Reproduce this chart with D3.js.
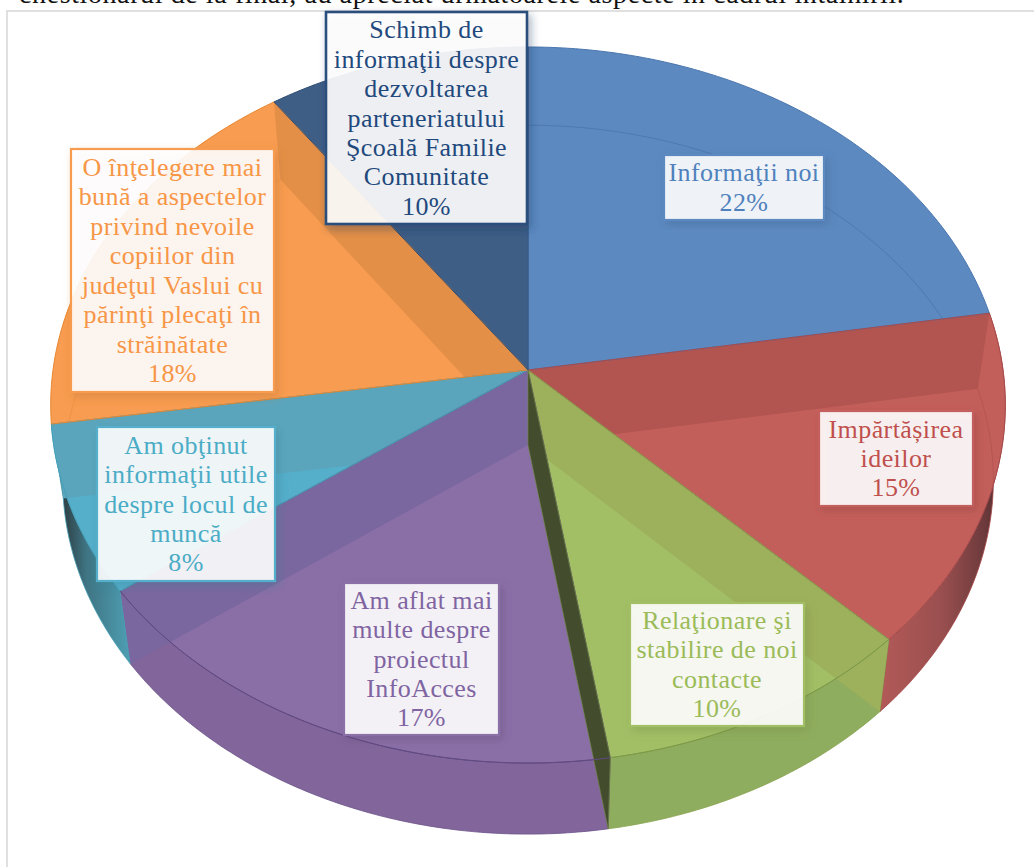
<!DOCTYPE html>
<html><head><meta charset="utf-8">
<script src="https://cdn.jsdelivr.net/npm/d3@7"></script>
<style>html,body{margin:0;padding:0;background:#fff;overflow:hidden}svg{display:block}</style>
</head><body><div id="c"></div>
<script>
// ---- data
const categories = [
  ["Informaţii noi"],
  ["Impărtășirea","ideilor"],
  ["Relaţionare şi","stabilire de noi","contacte"],
  ["Am aflat mai","multe despre","proiectul","InfoAcces"],
  ["Am obţinut","informaţii utile","despre locul de","muncă"],
  ["O înţelegere mai","bună a aspectelor","privind nevoile","copiilor din","judeţul Vaslui cu","părinţi plecaţi în","străinătate"],
  ["Schimb de","informaţii despre","dezvoltarea","parteneriatului","Şcoală Familie","Comunitate"]
];
const values = [22.4, 15.1, 10.0, 17.5, 7.6, 17.6, 9.8];
const percentLabels = ["22%","15%","10%","17%","8%","18%","10%"];
const pageHeading = "chestionarul de la final, au apreciat următoarele aspecte în cadrul întâlnirii.";

// ---- styles
const topColors  = ["#5C89C0","#C35F5B","#A2BF66","#8A6FA6","#55AECA","#F79C50","#3E5E85"];
const bandColors = ["#5C89C0","#B25450","#9DB05C","#7B679F","#5BA5BC","#E38F47","#3E5E85"];
const wallColors = [null,"url(#wallRed)","#8FAD5E","#82669B","url(#wallTeal)",null,null];
const lineColors = ["#4A76AE","#A84A4A","#86A24E","#6A5288","#45A0B8","#E8862F","#2F4D73"];
const textColors = ["#4F81BD","#C0504D","#9BBB59","#8064A2","#4BACC6","#F79646","#1F497D"];
const bandEdge   = [null,"start","start","end","end","end",null];
const bandOverWall = [false,true,true,true,true,false,false];
const baseRimOpacity = [0.6,0.35,0,0,0,0.25,0];
// label box: left, top, width, height
const boxLayout = [[664,155,160,65],[819,411,154,95],[630,603,174,123],[344,583,155,152],[97,427,178,154],[71,149,203,243],[326,12,201,212]];
const lineStep = 29.45;

// ---- geometry
const W=1034,H=867, cx=528, topY=370, botY=445, A=475, B=354.6, p=0.0978, botSX=0.975, botSY=0.99;
const project=(t,level)=>{
  const u=Math.sin(t), v=Math.cos(t), d=1+p*v;
  return level===0 ? [cx+A*u/d, topY-B*v/d] : [cx+botSX*A*u/d, botY-botSY*B*v/d];
};
const rim=(a,b,level)=>{
  const n=Math.max(2,Math.ceil(Math.abs(b-a)/0.01));
  return d3.range(n+1).map(i=>project(a+(b-a)*i/n,level));
};
const line=d3.line();
const svg=d3.select("#c").append("svg").attr("width",W).attr("height",H);
const defs=svg.append("defs");

const grad=(id,x1,x2,stops)=>{
  const g=defs.append("linearGradient").attr("id",id).attr("gradientUnits","userSpaceOnUse")
    .attr("x1",x1).attr("x2",x2).attr("y1",0).attr("y2",0);
  stops.forEach(s=>g.append("stop").attr("offset",s[0]).attr("stop-color",s[1]));
};
grad("wallRed",880,1003,[[0,"#B25A58"],[0.5,"#9a4f4f"],[0.85,"#6d3a3c"],[1,"#4a2a2c"]]);
grad("wallTeal",60,135,[[0,"#2b383c"],[0.35,"#3f7483"],[1,"#4FA3B8"]]);

textColors.forEach((c,i)=>{
  const f=defs.append("filter").attr("id","shadow"+i).attr("x","-15%").attr("y","-15%").attr("width","130%").attr("height","130%");
  f.append("feDropShadow").attr("dx",3).attr("dy",4).attr("stdDeviation",4.5)
    .attr("flood-color",d3.color(c).darker(0.9)).attr("flood-opacity",0.38);
});

// ---- heading and frame
svg.append("text").text(pageHeading).attr("x",19).attr("y",3)
  .attr("font-family","'Liberation Serif',serif").attr("font-size",28).attr("letter-spacing",0.6).attr("fill","#111");
svg.append("rect").attr("x",7).attr("y",11).attr("width",1040).attr("height",880)
  .attr("fill","#fff").attr("stroke","#d9d9d9").attr("stroke-width",1.6);

// ---- slices
const arcs=d3.pie().sort(null).value(d=>d)(values);
const sector=d=>line([[cx,topY],...rim(d.startAngle,d.endAngle,0)])+"Z";
const wall=d=>line([...rim(d.startAngle,d.endAngle,0),...rim(d.endAngle,d.startAngle,1)])+"Z";

arcs.forEach((d,i)=>{
  const cp=defs.append("clipPath").attr("id","clip"+i);
  cp.append("path").attr("d",sector(d));
  if(bandOverWall[i]) cp.append("path").attr("d",wall(d));
});

// outer walls
svg.append("g").selectAll("path").data(arcs.filter((d,i)=>wallColors[i])).join("path")
  .attr("d",wall).attr("fill",d=>wallColors[d.index]).attr("stroke",d=>lineColors[d.index]).attr("stroke-width",0.8);
// top faces
svg.append("g").selectAll("path").data(arcs).join("path")
  .attr("d",sector).attr("fill",(d,i)=>topColors[i]);
// inner wall bands seen through the top
const bandQuad=t=>line([[cx,topY],project(t,0),project(t,1),[cx,botY]])+"Z";
svg.append("g").selectAll("path").data(arcs.filter((d,i)=>bandEdge[i])).join("path")
  .attr("d",d=>bandQuad(bandEdge[d.index]==="start"?d.startAngle:d.endAngle))
  .attr("fill",d=>bandColors[d.index])
  .attr("clip-path",d=>`url(#clip${d.index})`);
// far rim of the base, seen through the top
svg.append("g").selectAll("path").data(arcs).join("path")
  .attr("d",d=>line(rim(d.startAngle,d.endAngle,1)))
  .attr("fill","none").attr("stroke",(d,i)=>d3.color(lineColors[i]).darker(0.15))
  .attr("stroke-width",1).attr("stroke-opacity",(d,i)=>baseRimOpacity[i])
  .attr("clip-path",d=>`url(#clip${d.index})`);
// front rim of the top face + radial edges
svg.append("g").selectAll("path").data(arcs).join("path")
  .attr("d",sector).attr("fill","none").attr("stroke",(d,i)=>lineColors[i]).attr("stroke-width",1);
// dark cut between green and purple
const cut=arcs[2].endAngle;
svg.append("path").attr("d",bandQuad(cut)).attr("fill","#434C2D").attr("stroke","#6f8a3f").attr("stroke-width",0.6);
svg.append("path").attr("d",line(rim(arcs[3].startAngle,arcs[3].endAngle,0))).attr("fill","none").attr("stroke","#5f4a82").attr("stroke-width",1);
svg.append("path").attr("d",line(rim(arcs[2].startAngle,arcs[2].endAngle,0))).attr("fill","none").attr("stroke","#7d9a4a").attr("stroke-width",1);

// ---- labels
const lab=svg.append("g").selectAll("g").data(arcs).join("g");
lab.append("rect")
  .attr("x",d=>boxLayout[d.index][0]).attr("y",d=>boxLayout[d.index][1])
  .attr("width",d=>boxLayout[d.index][2]).attr("height",d=>boxLayout[d.index][3])
  .attr("fill","#fff").attr("fill-opacity",0.89)
  .attr("stroke",d=>d.index===6?"#2C4F7C":topColors[d.index]).attr("stroke-width",d=>d.index===6?2.6:2.2)
  .attr("filter",d=>`url(#shadow${d.index})`);
lab.each(function(d){
  const b=boxLayout[d.index], lines=[...categories[d.index],percentLabels[d.index]];
  const first=b[1]+ (b[3]-lineStep*(lines.length-1))/2 +8.5;
  d3.select(this).selectAll("text").data(lines).join("text")
    .text(t=>t).attr("x",b[0]+b[2]/2).attr("y",(t,j)=>first+j*lineStep)
    .attr("text-anchor","middle").attr("font-family","'Liberation Serif',serif")
    .attr("font-size",26).attr("letter-spacing",0.42).attr("fill",textColors[d.index]);
});
</script></body></html>
